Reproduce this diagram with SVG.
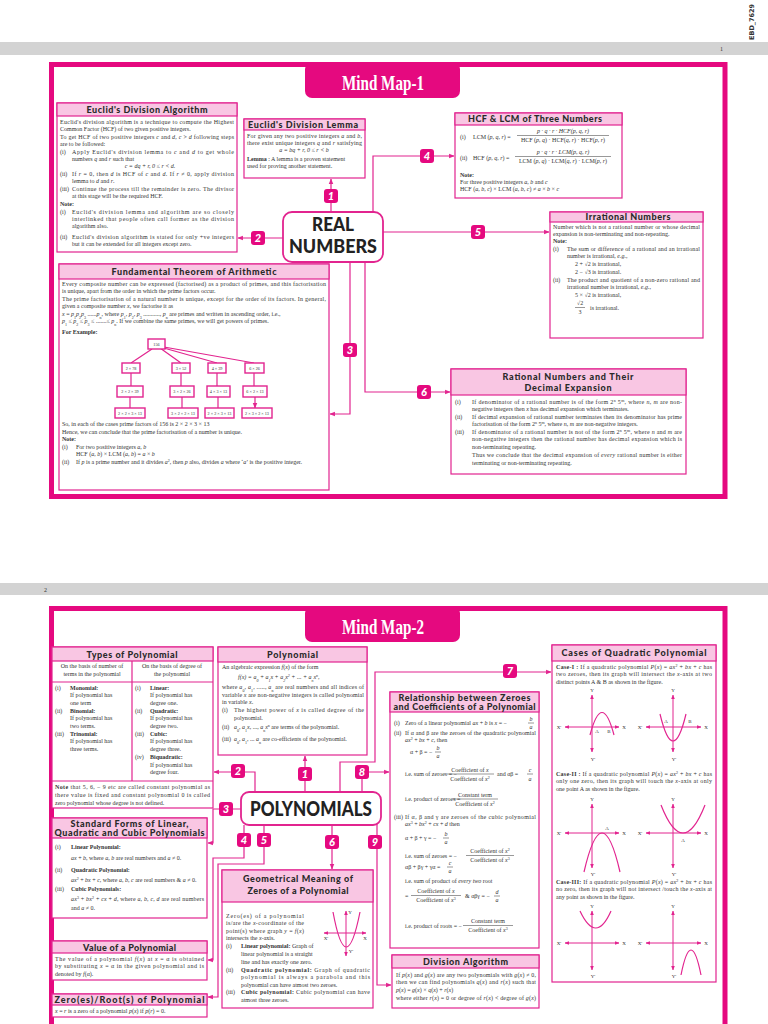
<svg xmlns="http://www.w3.org/2000/svg" width="768" height="1024" viewBox="0 0 768 1024">
<defs>
<marker id="ah" viewBox="0 0 6 6" refX="5.5" refY="3" markerWidth="4.5" markerHeight="4.5" orient="auto-start-reverse"><path d="M0,0.5 L6,3 L0,5.5 z" fill="#e2248f"/></marker>
<style>
.bx{fill:#fff;stroke:#e2248f;stroke-width:1.2}
.hb{fill:#f9c6e3;stroke:#e2248f;stroke-width:1.2}
.ht{font-family:Lato,"DejaVu Sans",sans-serif;font-weight:900;font-size:9px;fill:#2a2a2a;text-anchor:middle}
.t{font-family:"Liberation Serif","Times New Roman",serif;font-size:6px;fill:#333}
.b{font-weight:bold}
.i{font-style:italic}
.m{text-anchor:middle}
.cn{fill:none;stroke:#e2248f;stroke-width:1.2}
.ar{marker-end:url(#ah)}
.bd rect{fill:#e5097f}
.bd text{font-family:Lato,"DejaVu Sans",sans-serif;font-weight:900;font-style:italic;font-size:11px;fill:#fff;text-anchor:middle}
.big{font-family:Lato,"DejaVu Sans",sans-serif;font-weight:900;fill:#222;text-anchor:middle}
.fl{stroke:#333;stroke-width:0.5}
.ax{stroke:#e2248f;stroke-width:1;fill:none;marker-end:url(#ah);marker-start:url(#ah)}
.pb{stroke:#e2248f;stroke-width:1.2;fill:none}
.gl{font-family:"Liberation Serif",serif;font-size:5px;fill:#333;text-anchor:middle}
.tb{fill:#fff;stroke:#e2248f;stroke-width:1.4}
.tt{font-family:"Liberation Serif",serif;font-size:4.2px;fill:#333;text-anchor:middle}
.frame{fill:none;stroke:#e5097f;stroke-width:5}
.tab{fill:#e5097f}
.tabt{font-family:"Liberation Serif",serif;font-weight:bold;font-size:21px;fill:#fff;text-anchor:middle}
.gray{fill:#d3d3d3}
</style>
</defs>
<rect width="768" height="1024" fill="#fff"/>

<!-- PAGE 1 -->
<g id="page1-chrome">
<rect class="gray" x="0" y="42" width="768" height="13"/>
<text class="t" x="720" y="51">1</text>
<text transform="translate(754,40) rotate(-90)" font-family="DejaVu Sans,sans-serif" font-weight="bold" font-size="6.5" fill="#333">EBD_7629</text>
<rect class="frame" x="51.5" y="64.5" width="673.5" height="432"/>
<rect class="tab" x="305" y="62" width="155" height="36" rx="7"/>
<text class="tabt" x="383" y="90" textLength="82" lengthAdjust="spacingAndGlyphs">Mind Map-1</text>
</g>

<g id="connectors-1">
<path class="cn ar" d="M331,212 V179"/>
<path class="cn ar" d="M283,238 H238"/>
<path class="cn ar" d="M373,212 V156 H454"/>
<path class="cn ar" d="M383,232 H549"/>
<path class="cn ar" d="M350,262 V414 H330"/>
<path class="cn ar" d="M365,262 V392 H450"/>
</g>
<g id="badges-1" class="bd">
<rect x="324" y="189" width="14" height="14" rx="3"/><text x="331" y="200">1</text>
<rect x="251" y="231" width="14" height="14" rx="3"/><text x="258" y="242">2</text>
<rect x="343" y="343" width="14" height="14" rx="3"/><text x="350" y="354">3</text>
<rect x="420" y="149" width="14" height="14" rx="3"/><text x="427" y="160">4</text>
<rect x="471" y="225" width="14" height="14" rx="3"/><text x="478" y="236">5</text>
<rect x="417" y="385" width="14" height="14" rx="3"/><text x="424" y="396">6</text>
</g>

<g id="real-numbers">
<rect x="283" y="212" width="100" height="50" rx="9" fill="#fff" stroke="#e2248f" stroke-width="1.8"/>
<text class="big" x="333" y="231" font-size="19" textLength="42" lengthAdjust="spacingAndGlyphs">REAL</text>
<text class="big" x="333" y="253" font-size="19" textLength="88" lengthAdjust="spacingAndGlyphs">NUMBERS</text>
</g>

<g id="euclid-algorithm">
<rect class="bx" x="57" y="103" width="180" height="149"/>
<rect class="hb" x="57" y="103" width="180" height="13"/>
<text class="ht" x="147" y="113" textLength="121">Euclid's Division Algorithm</text>
<text class="t" x="60" y="124" textLength="174">Euclid's division algorithm is a technique to compute the Highest</text>
<text class="t" x="60" y="131">Common Factor (HCF) of two given positive integers.</text>
<text class="t" x="60" y="139" textLength="174">To get HCF of two positive integers <tspan class="i">c</tspan> and <tspan class="i">d</tspan>, <tspan class="i">c</tspan> &gt; <tspan class="i">d</tspan> following steps</text>
<text class="t" x="60" y="146">are to be followed:</text>
<text class="t" x="60" y="154">(i)</text><text class="t" x="72" y="154" textLength="162">Apply Euclid's division lemma to <tspan class="i">c</tspan> and <tspan class="i">d</tspan> to get whole</text>
<text class="t" x="72" y="161">numbers <tspan class="i">q</tspan> and <tspan class="i">r</tspan> such that</text>
<text class="t m i" x="150" y="168">c = dq + r,  0 ≤ r &lt; d.</text>
<text class="t" x="60" y="176">(ii)</text><text class="t" x="72" y="176" textLength="162">If <tspan class="i">r</tspan> = 0, then <tspan class="i">d</tspan> is HCF of <tspan class="i">c</tspan> and <tspan class="i">d</tspan>. If <tspan class="i">r</tspan> ≠ 0, apply division</text>
<text class="t" x="72" y="183">lemma to <tspan class="i">d</tspan> and <tspan class="i">r</tspan>.</text>
<text class="t" x="60" y="191">(iii)</text><text class="t" x="72" y="191" textLength="162">Continue the process till the remainder is zero. The divisor</text>
<text class="t" x="72" y="198">at this stage will be the required HCF.</text>
<text class="t b" x="60" y="206">Note:</text>
<text class="t" x="60" y="214">(i)</text><text class="t" x="72" y="214" textLength="162">Euclid's division lemma and algorithm are so closely</text>
<text class="t" x="72" y="221" textLength="162">interlinked that people often call former as the division</text>
<text class="t" x="72" y="228">algorithm also.</text>
<text class="t" x="60" y="239">(ii)</text><text class="t" x="72" y="239" textLength="162">Euclid's division algorithm is stated for only +ve integers</text>
<text class="t" x="72" y="246">but it can be extended for all integers except zero.</text>
</g>

<g id="euclid-lemma">
<rect class="bx" x="244" y="119" width="121" height="59"/>
<rect class="hb" x="244" y="119" width="121" height="11"/>
<text class="ht" x="303" y="127.5" font-size="8" textLength="110">Euclid's Division Lemma</text>
<text class="t" x="247" y="138" textLength="115">For given any two positive integers <tspan class="i">a</tspan> and <tspan class="i">b</tspan>,</text>
<text class="t" x="247" y="145" textLength="115">there exist unique integers <tspan class="i">q</tspan> and <tspan class="i">r</tspan> satisfying</text>
<text class="t m i" x="304" y="152">a = bq + r, 0 ≤ r &lt; b</text>
<text class="t" x="247" y="161"><tspan class="b">Lemma</tspan> : A lemma is a proven statement</text>
<text class="t" x="247" y="168">used for proving another statement.</text>
</g>

<g id="hcf-lcm">
<rect class="bx" x="455" y="113" width="167" height="85"/>
<rect class="hb" x="455" y="113" width="167" height="12"/>
<text class="ht" x="535" y="122" textLength="134">HCF &amp; LCM of Three Numbers</text>
<text class="t" x="460" y="139">(i)</text>
<text class="t" x="473" y="139">LCM (<tspan class="i">p</tspan>, <tspan class="i">q</tspan>, <tspan class="i">r</tspan>) =</text>
<text class="t m i" x="563" y="133">p · q · r · HCF(p, q, r)</text>
<line class="fl" x1="517" y1="135.5" x2="609" y2="135.5"/>
<text class="t m" x="563" y="142">HCF (<tspan class="i">p</tspan>, <tspan class="i">q</tspan>) · HCF(<tspan class="i">q</tspan>, <tspan class="i">r</tspan>) · HCF(<tspan class="i">p</tspan>, <tspan class="i">r</tspan>)</text>
<text class="t" x="460" y="160">(ii)</text>
<text class="t" x="473" y="160">HCF (<tspan class="i">p</tspan>, <tspan class="i">q</tspan>, <tspan class="i">r</tspan>) =</text>
<text class="t m i" x="563" y="154">p · q · r · LCM(p, q, r)</text>
<line class="fl" x1="515" y1="156.5" x2="611" y2="156.5"/>
<text class="t m" x="563" y="163">LCM (<tspan class="i">p</tspan>, <tspan class="i">q</tspan>) · LCM(<tspan class="i">q</tspan>, <tspan class="i">r</tspan>) · LCM(<tspan class="i">p</tspan>, <tspan class="i">r</tspan>)</text>
<text class="t b" x="460" y="177">Note:</text>
<text class="t" x="460" y="184">For three positive integers <tspan class="i">a</tspan>, <tspan class="i">b</tspan> and <tspan class="i">c</tspan></text>
<text class="t" x="460" y="191">HCF (<tspan class="i">a</tspan>, <tspan class="i">b</tspan>, <tspan class="i">c</tspan>) × LCM (<tspan class="i">a</tspan>, <tspan class="i">b</tspan>, <tspan class="i">c</tspan>) ≠ <tspan class="i">a</tspan> × <tspan class="i">b</tspan> × <tspan class="i">c</tspan></text>
</g>

<g id="irrational">
<rect class="bx" x="550" y="212" width="153" height="126"/>
<rect class="hb" x="550" y="212" width="153" height="10"/>
<text class="ht" x="628" y="220" font-size="8.5" textLength="85">Irrational Numbers</text>
<text class="t" x="553" y="229" textLength="147">Number which is not a rational number or whose decimal</text>
<text class="t" x="553" y="236">expansion is non-terminating and non-repeating.</text>
<text class="t b" x="553" y="243">Note:</text>
<text class="t" x="553" y="251">(i)</text><text class="t" x="567" y="251" textLength="133">The sum or difference of a rational and an irrational</text>
<text class="t" x="567" y="258">number is irrational, <tspan class="i">e.g.</tspan>,</text>
<text class="t" x="575" y="266">2 + √2  is irrational,</text>
<text class="t" x="575" y="274">2 − √3  is irrational.</text>
<text class="t" x="553" y="282">(ii)</text><text class="t" x="567" y="282" textLength="133">The product and quotient of a non-zero rational and</text>
<text class="t" x="567" y="289">irrational number is irrational, <tspan class="i">e.g.</tspan>,</text>
<text class="t" x="575" y="297">5 × √2  is irrational,</text>
<text class="t m" x="580" y="305">√2</text>
<line class="fl" x1="575" y1="307.5" x2="585" y2="307.5"/>
<text class="t m" x="580" y="314">3</text>
<text class="t" x="590" y="310">is irrational.</text>
</g>

<g id="fundamental-theorem">
<rect class="bx" x="59" y="264" width="270" height="226"/>
<rect class="hb" x="59" y="264" width="270" height="15"/>
<text class="ht" x="194" y="275" font-size="9.5" textLength="165">Fundamental Theorem of Arithmetic</text>
<text class="t" x="62" y="286" textLength="264">Every composite number can be expressed (factorised) as a product of primes, and this factorisation</text>
<text class="t" x="62" y="293">is unique, apart from the order in which the prime factors occur.</text>
<text class="t" x="62" y="301" textLength="264">The prime factorisation of a natural number is unique, except for the order of its factors. In general,</text>
<text class="t" x="62" y="308">given a composite number <tspan class="i">x</tspan>, we factorise it as</text>
<text class="t" x="62" y="316"><tspan class="i">x</tspan> = <tspan class="i">p</tspan><tspan font-size="4" baseline-shift="sub">1</tspan><tspan class="i">p</tspan><tspan font-size="4" baseline-shift="sub">2</tspan><tspan class="i">p</tspan><tspan font-size="4" baseline-shift="sub">3</tspan> ......<tspan class="i">p</tspan><tspan font-size="4" baseline-shift="sub">n</tspan>, where <tspan class="i">p</tspan><tspan font-size="4" baseline-shift="sub">1</tspan>, <tspan class="i">p</tspan><tspan font-size="4" baseline-shift="sub">2</tspan>, <tspan class="i">p</tspan><tspan font-size="4" baseline-shift="sub">3</tspan> ..........., <tspan class="i">p</tspan><tspan font-size="4" baseline-shift="sub">n</tspan> are primes and written in ascending order, i.e.,</text>
<text class="t" x="62" y="323"><tspan class="i">p</tspan><tspan font-size="4" baseline-shift="sub">1</tspan> ≤ <tspan class="i">p</tspan><tspan font-size="4" baseline-shift="sub">2</tspan> ≤ <tspan class="i">p</tspan><tspan font-size="4" baseline-shift="sub">3</tspan> ≤ .......≤ <tspan class="i">p</tspan><tspan font-size="4" baseline-shift="sub">n</tspan>. If we combine the same primes, we will get powers of primes.</text>
<text class="t b" x="62" y="334">For Example:</text>
<path class="cn" d="M152,349 L131,363 M160,348 L181,363 M162,347.5 L217,363 M164,347 L254,363"/>
<path class="cn ar" d="M131,373 V386 M181,373 V386 M217,373 V386 M254,373 V386 M130,397 V408 M182,397 V408 M218,397 V408 M255,397 V408"/>
<rect class="tb" x="148" y="339" width="17" height="10"/><text class="tt" x="156.5" y="345.5">156</text>
<rect class="tb" x="122" y="363" width="18" height="10"/><text class="tt" x="131" y="369.5">2 × 78</text>
<rect class="tb" x="172" y="363" width="18" height="10"/><text class="tt" x="181" y="369.5">3 × 52</text>
<rect class="tb" x="208" y="363" width="18" height="10"/><text class="tt" x="217" y="369.5">4 × 39</text>
<rect class="tb" x="245" y="363" width="19" height="10"/><text class="tt" x="254.5" y="369.5">6 × 26</text>
<rect class="tb" x="117" y="386" width="26" height="11"/><text class="tt" x="130" y="393">2 × 2 × 39</text>
<rect class="tb" x="170" y="386" width="24" height="11"/><text class="tt" x="182" y="393">3 × 2 × 26</text>
<rect class="tb" x="207" y="386" width="23" height="11"/><text class="tt" x="218.5" y="393">4 × 3 × 13</text>
<rect class="tb" x="243" y="386" width="24" height="11"/><text class="tt" x="255" y="393">6 × 2 × 13</text>
<rect class="tb" x="115" y="408" width="30" height="10"/><text class="tt" x="130" y="414.5">2 × 2 × 3 × 13</text>
<rect class="tb" x="168" y="408" width="30" height="10"/><text class="tt" x="183" y="414.5">3 × 2 × 2 × 13</text>
<rect class="tb" x="205" y="408" width="29" height="10"/><text class="tt" x="219.5" y="414.5">2 × 2 × 3 × 13</text>
<rect class="tb" x="242" y="408" width="30" height="10"/><text class="tt" x="257" y="414.5">2 × 3 × 2 × 13</text>
<text class="t" x="62" y="426">So, in each of the cases prime factors of 156 is 2 × 2 × 3 × 13</text>
<text class="t" x="62" y="434">Hence, we can conclude that the prime factorisation of a number is unique.</text>
<text class="t b" x="62" y="441">Note:</text>
<text class="t" x="62" y="449">(i)</text><text class="t" x="76" y="449">For two positive integers <tspan class="i">a</tspan>, <tspan class="i">b</tspan></text>
<text class="t" x="76" y="456">HCF (<tspan class="i">a</tspan>, <tspan class="i">b</tspan>) × LCM (<tspan class="i">a</tspan>, <tspan class="i">b</tspan>) = <tspan class="i">a</tspan> × <tspan class="i">b</tspan></text>
<text class="t" x="62" y="464">(ii)</text><text class="t" x="76" y="464">If <tspan class="i">p</tspan> is a prime number and it divides <tspan class="i">a</tspan><tspan font-size="4" baseline-shift="super">2</tspan>, then <tspan class="i">p</tspan> also, divides <tspan class="i">a</tspan> where ‘<tspan class="i">a</tspan>’ is the positive integer.</text>
</g>

<g id="rational">
<rect class="bx" x="451" y="369" width="235" height="105"/>
<rect class="hb" x="451" y="369" width="235" height="26"/>
<text class="ht" x="568" y="380" font-size="9.5" textLength="131">Rational Numbers and Their</text>
<text class="ht" x="568" y="391" font-size="9.5" textLength="87">Decimal Expansion</text>
<text class="t" x="455" y="404">(i)</text><text class="t" x="472" y="404" textLength="210">If denominator of a rational number is of the form 2<tspan font-size="4" baseline-shift="super">n</tspan> 5<tspan font-size="4" baseline-shift="super">m</tspan>, where <tspan class="i">n</tspan>, <tspan class="i">m</tspan> are non-</text>
<text class="t" x="472" y="411">negative integers then <tspan class="i">x</tspan> has decimal expansion  which terminates.</text>
<text class="t" x="455" y="419">(ii)</text><text class="t" x="472" y="419" textLength="210">If decimal expansion of rational number terminates then its denominator has prime</text>
<text class="t" x="472" y="426">factorisation of the form 2<tspan font-size="4" baseline-shift="super">n</tspan> 5<tspan font-size="4" baseline-shift="super">m</tspan>, where <tspan class="i">n</tspan>, <tspan class="i">m</tspan> are non-negative integers.</text>
<text class="t" x="455" y="434">(iii)</text><text class="t" x="472" y="434" textLength="210">If denominator of a rational number is not of the form 2<tspan font-size="4" baseline-shift="super">n</tspan> 5<tspan font-size="4" baseline-shift="super">m</tspan>, where <tspan class="i">n</tspan> and <tspan class="i">m</tspan> are</text>
<text class="t" x="472" y="441" textLength="210">non-negative integers then the rational number has decimal expansion which is</text>
<text class="t" x="472" y="449">non-terminating repeating.</text>
<text class="t" x="472" y="457" textLength="210">Thus we conclude that the decimal expansion of <tspan class="i">every</tspan> rational number is either</text>
<text class="t" x="472" y="465">terminating or non-terminating repeating.</text>
</g>

<!-- PAGE 2 -->
<g id="page2-chrome">
<rect class="gray" x="0" y="583" width="768" height="12"/>
<text class="t" x="44" y="592">2</text>
<rect class="frame" x="51.5" y="608.5" width="673.5" height="430"/>
<rect class="tab" x="305" y="606" width="155" height="36" rx="7"/>
<text class="tabt" x="383" y="634" textLength="82" lengthAdjust="spacingAndGlyphs">Mind Map-2</text>
</g>

<g id="connectors-2">
<path class="cn ar" d="M305,792 V756"/>
<path class="cn ar" d="M255,792 V772 H214"/>
<path class="cn ar" d="M362,792 V772 H389"/>
<path class="cn ar" d="M340,792 V762 H375 V672 H551"/>
<path class="cn ar" d="M241,809 H213 V843 H208"/>
<path class="cn ar" d="M244,825 V858 H213 V960 H208"/>
<path class="cn ar" d="M264,825 V864 H218 V997 H208"/>
<path class="cn ar" d="M332,825 V869"/>
<path class="cn ar" d="M377,822 V985 H391"/>
</g>
<g id="badges-2" class="bd">
<rect x="298" y="767" width="14" height="14" rx="3"/><text x="305" y="778">1</text>
<rect x="231" y="764" width="14" height="14" rx="3"/><text x="238" y="775">2</text>
<rect x="219" y="802" width="14" height="14" rx="3"/><text x="226" y="813">3</text>
<rect x="237" y="833" width="14" height="14" rx="3"/><text x="244" y="844">4</text>
<rect x="257" y="833" width="14" height="14" rx="3"/><text x="264" y="844">5</text>
<rect x="325" y="835" width="14" height="14" rx="3"/><text x="332" y="846">6</text>
<rect x="503" y="664" width="14" height="14" rx="3"/><text x="510" y="675">7</text>
<rect x="355" y="765" width="14" height="14" rx="3"/><text x="362" y="776">8</text>
<rect x="368" y="835" width="14" height="14" rx="3"/><text x="375" y="846">9</text>
</g>

<g id="polynomials">
<rect x="241" y="792" width="140" height="33" rx="8" fill="#fff" stroke="#e2248f" stroke-width="1.8"/>
<text class="big" x="311" y="816" font-size="20" textLength="122" lengthAdjust="spacingAndGlyphs">POLYNOMIALS</text>
</g>

<g id="types-of-polynomial">
<rect class="bx" x="52" y="647" width="161" height="161"/>
<rect class="hb" x="52" y="647" width="161" height="14"/>
<text class="ht" x="132" y="657.5" font-size="9.5" textLength="91">Types of Polynomial</text>
<path class="cn" d="M52,682 H213 M52,781 H213 M132,661 V781"/>
<text class="t m" x="92" y="668">On the basis of number of</text>
<text class="t m" x="92" y="676">terms in the polynomial</text>
<text class="t m" x="172" y="668">On the basis of degree of</text>
<text class="t m" x="172" y="676">the polynomial</text>
<text class="t" x="55" y="690">(i)</text><text class="t b" x="70" y="690">Monomial:</text>
<text class="t" x="70" y="697">If polynomial has</text>
<text class="t" x="70" y="705">one term</text>
<text class="t" x="55" y="713">(ii)</text><text class="t b" x="70" y="713">Binomial:</text>
<text class="t" x="70" y="720">If polynomial has</text>
<text class="t" x="70" y="728">two terms.</text>
<text class="t" x="55" y="736">(iii)</text><text class="t b" x="70" y="736">Trinomial:</text>
<text class="t" x="70" y="743">If polynomial has</text>
<text class="t" x="70" y="751">three terms.</text>
<text class="t" x="135" y="690">(i)</text><text class="t b" x="150" y="690">Linear:</text>
<text class="t" x="150" y="697">If polynomial has</text>
<text class="t" x="150" y="705">degree one.</text>
<text class="t" x="135" y="713">(ii)</text><text class="t b" x="150" y="713">Quadratic:</text>
<text class="t" x="150" y="720">If polynomial has</text>
<text class="t" x="150" y="728">degree two.</text>
<text class="t" x="135" y="736">(iii)</text><text class="t b" x="150" y="736">Cubic:</text>
<text class="t" x="150" y="743">If polynomial has</text>
<text class="t" x="150" y="751">degree three.</text>
<text class="t" x="135" y="759">(iv)</text><text class="t b" x="150" y="759">Biquadratic:</text>
<text class="t" x="150" y="767">If polynomial has</text>
<text class="t" x="150" y="774">degree four.</text>
<text class="t" x="55" y="789" textLength="155"><tspan class="b">Note</tspan> that 5, 6, − 9 etc are called constant polynomial as</text>
<text class="t" x="55" y="797" textLength="155">there value is fixed and constant polynomial 0 is called</text>
<text class="t" x="55" y="805">zero polynomial whose degree is not defined.</text>
</g>

<g id="polynomial">
<rect class="bx" x="218" y="647" width="149" height="108"/>
<rect class="hb" x="218" y="647" width="149" height="15"/>
<text class="ht" x="292.5" y="658" font-size="9.5" textLength="51">Polynomial</text>
<text class="t" x="222" y="669">An algebraic expression <tspan class="i">f</tspan>(<tspan class="i">x</tspan>) of the form</text>
<text class="t i" x="238" y="679" font-size="6.5">f(x) = a<tspan font-size="4" baseline-shift="sub">0</tspan> + a<tspan font-size="4" baseline-shift="sub">1</tspan>x + a<tspan font-size="4" baseline-shift="sub">2</tspan>x<tspan font-size="4" baseline-shift="super">2</tspan> + ... + a<tspan font-size="4" baseline-shift="sub">n</tspan>x<tspan font-size="4" baseline-shift="super">n</tspan>,</text>
<text class="t" x="222" y="689" textLength="142">where <tspan class="i">a</tspan><tspan font-size="4" baseline-shift="sub">0</tspan>, <tspan class="i">a</tspan><tspan font-size="4" baseline-shift="sub">1</tspan>, ....., <tspan class="i">a</tspan><tspan font-size="4" baseline-shift="sub">n</tspan> are real numbers and all indices of</text>
<text class="t" x="222" y="697" textLength="142">variable <tspan class="i">x</tspan> are non-negative integers is called polynomial</text>
<text class="t" x="222" y="704">in variable <tspan class="i">x</tspan>.</text>
<text class="t" x="222" y="712">(i)</text><text class="t" x="234" y="712" textLength="130">The highest power of <tspan class="i">x</tspan> is called degree of the</text>
<text class="t" x="234" y="720">polynomial.</text>
<text class="t" x="222" y="729">(ii)</text><text class="t" x="234" y="729"><tspan class="i">a</tspan><tspan font-size="4" baseline-shift="sub">0</tspan>, <tspan class="i">a</tspan><tspan font-size="4" baseline-shift="sub">1</tspan><tspan class="i">x</tspan>, ..., <tspan class="i">a</tspan><tspan font-size="4" baseline-shift="sub">n</tspan><tspan class="i">x</tspan><tspan font-size="4" baseline-shift="super">n</tspan> are terms of the polynomial.</text>
<text class="t" x="222" y="741">(iii)</text><text class="t" x="234" y="741"><tspan class="i">a</tspan><tspan font-size="4" baseline-shift="sub">0</tspan>, <tspan class="i">a</tspan><tspan font-size="4" baseline-shift="sub">1</tspan>, ... <tspan class="i">a</tspan><tspan font-size="4" baseline-shift="sub">n</tspan> are co-efficients of the  polynomial.</text>
</g>

<g id="relationship">
<rect class="bx" x="390" y="692" width="149" height="256"/>
<rect class="hb" x="390" y="692" width="149" height="20"/>
<text class="ht" x="464.5" y="700.5" font-size="8.7" textLength="132">Relationship between Zeroes</text>
<text class="ht" x="464.5" y="709.5" font-size="8.7" textLength="142">and Coefficients of a Polynomial</text>
<text class="t" x="394" y="725">(i)</text><text class="t" x="405" y="725">Zero of a linear polynomial <tspan class="i">ax</tspan> + <tspan class="i">b</tspan> is  <tspan class="i">x</tspan> = −</text>
<text class="t m i" x="531" y="721">b</text><line class="fl" x1="528" y1="723" x2="534" y2="723"/><text class="t m i" x="531" y="729">a</text>
<text class="t" x="394" y="735">(ii)</text><text class="t" x="405" y="735" textLength="131">If α and β are the zeroes of the quadratic polynomial</text>
<text class="t" x="405" y="742"><tspan class="i">ax</tspan><tspan font-size="4" baseline-shift="super">2</tspan> + <tspan class="i">bx</tspan> + <tspan class="i">c</tspan>, then</text>
<text class="t" x="410" y="754">α + β = −</text>
<text class="t m i" x="438" y="750">b</text><line class="fl" x1="435" y1="752" x2="441" y2="752"/><text class="t m i" x="438" y="758">a</text>
<text class="t" x="405" y="776">i.e. sum of zeroes = −</text>
<text class="t m" x="470" y="772">Coefficient of <tspan class="i">x</tspan></text><line class="fl" x1="447" y1="774" x2="494" y2="774"/><text class="t m" x="470" y="780.5">Coefficient of <tspan class="i">x</tspan><tspan font-size="4" baseline-shift="super">2</tspan></text>
<text class="t" x="497" y="776">and αβ =</text>
<text class="t m i" x="530" y="772">c</text><line class="fl" x1="527" y1="774" x2="533" y2="774"/><text class="t m i" x="530" y="780.5">a</text>
<text class="t" x="405" y="801">i.e. product of zeroes =</text>
<text class="t m" x="475" y="797">Constant term</text><line class="fl" x1="453" y1="799" x2="498" y2="799"/><text class="t m" x="475" y="806">Coefficient of <tspan class="i">x</tspan><tspan font-size="4" baseline-shift="super">2</tspan></text>
<text class="t" x="394" y="819">(iii)</text><text class="t" x="405" y="819" textLength="131">If  α, β and γ are zeroes of the cubic polynomial</text>
<text class="t" x="405" y="826"><tspan class="i">ax</tspan><tspan font-size="4" baseline-shift="super">3</tspan> + <tspan class="i">bx</tspan><tspan font-size="4" baseline-shift="super">2</tspan> + <tspan class="i">cx</tspan> + <tspan class="i">d</tspan> then</text>
<text class="t" x="405" y="840">α + β + γ = −</text>
<text class="t m i" x="446" y="836">b</text><line class="fl" x1="443" y1="838" x2="449" y2="838"/><text class="t m i" x="446" y="844">a</text>
<text class="t" x="405" y="858">i.e. sum of zeroes = −</text>
<text class="t m" x="490" y="853">Coefficient of <tspan class="i">x</tspan><tspan font-size="4" baseline-shift="super">2</tspan></text><line class="fl" x1="466" y1="855.5" x2="514" y2="855.5"/><text class="t m" x="490" y="862">Coefficient of <tspan class="i">x</tspan><tspan font-size="4" baseline-shift="super">3</tspan></text>
<text class="t" x="405" y="869">αβ + βγ + γα =</text>
<text class="t m i" x="450" y="865">c</text><line class="fl" x1="447" y1="867" x2="453" y2="867"/><text class="t m i" x="450" y="873">a</text>
<text class="t" x="405" y="883">i.e. sum of product of <tspan class="i">every two</tspan> root</text>
<text class="t" x="405" y="898">=</text>
<text class="t m" x="436" y="893">Coefficient of <tspan class="i">x</tspan></text><line class="fl" x1="411" y1="895.5" x2="461" y2="895.5"/><text class="t m" x="436" y="902">Coefficient of <tspan class="i">x</tspan><tspan font-size="4" baseline-shift="super">3</tspan></text>
<text class="t" x="465" y="898">&amp; αβγ = −</text>
<text class="t m i" x="497" y="894">d</text><line class="fl" x1="494" y1="896" x2="500" y2="896"/><text class="t m i" x="497" y="902">a</text>
<text class="t" x="405" y="928">i.e. product of roots = −</text>
<text class="t m" x="488" y="923">Constant term</text><line class="fl" x1="463" y1="925.5" x2="513" y2="925.5"/><text class="t m" x="488" y="932">Coefficient of <tspan class="i">x</tspan><tspan font-size="4" baseline-shift="super">3</tspan></text>
</g>

<g id="cases-quadratic">
<rect class="bx" x="552" y="645" width="164" height="337"/>
<rect class="hb" x="552" y="645" width="164" height="16"/>
<text class="ht" x="634" y="656" font-size="9" textLength="145">Cases of Quadratic Polynomial</text>
<text class="t" x="556" y="669" textLength="156"><tspan class="b">Case-I :</tspan> If a quadratic polynomial <tspan class="i">P</tspan>(<tspan class="i">x</tspan>) = <tspan class="i">ax</tspan><tspan font-size="4" baseline-shift="super">2</tspan> + <tspan class="i">bx</tspan> + <tspan class="i">c</tspan> has</text>
<text class="t" x="556" y="676" textLength="156">two zeroes, then its graph will intersect the <tspan class="i">x</tspan>-axis at two</text>
<text class="t" x="556" y="684">distinct points A &amp; B as shown in the figure.</text>
<path class="ax" d="M592,752 V695"/><path class="ax" d="M565,727 H619"/>
<path class="pb" d="M590,735 Q602,690 614,735"/>
<text class="gl" x="592" y="692">Y</text><text class="gl" x="593" y="761">Y'</text><text class="gl" x="559" y="729">X'</text><text class="gl" x="624" y="729">X</text>
<text class="gl" x="597" y="733">A</text><text class="gl" x="609" y="733">B</text>
<path class="ax" d="M673,752 V695"/><path class="ax" d="M646,727 H701"/>
<path class="pb" d="M660,714 Q673,768 686,714"/>
<text class="gl" x="673" y="692">Y</text><text class="gl" x="674" y="761">Y'</text><text class="gl" x="640" y="729">X'</text><text class="gl" x="706" y="729">X</text>
<text class="gl" x="666" y="723">A</text><text class="gl" x="690" y="723">B</text>
<text class="t" x="556" y="776" textLength="156"><tspan class="b">Case-II :</tspan> If a quadratic polynomial <tspan class="i">P</tspan>(<tspan class="i">x</tspan>) = <tspan class="i">ax</tspan><tspan font-size="4" baseline-shift="super">2</tspan> + <tspan class="i">bx</tspan> + <tspan class="i">c</tspan> has</text>
<text class="t" x="556" y="783" textLength="156">only one zero, then its graph will touch the <tspan class="i">x</tspan>-axis at only</text>
<text class="t" x="556" y="791">one point A as shown in the figure.</text>
<path class="ax" d="M592,868 V804"/><path class="ax" d="M565,833 H619"/>
<path class="pb" d="M584,872 Q602,794 620,872"/>
<text class="gl" x="592" y="801">Y</text><text class="gl" x="593" y="876">Y'</text><text class="gl" x="559" y="835">X'</text><text class="gl" x="624" y="835">X</text>
<text class="gl" x="607" y="830">A</text>
<path class="ax" d="M673,868 V804"/><path class="ax" d="M646,833 H701"/>
<path class="pb" d="M661,805 Q683,861 705,805"/>
<text class="gl" x="673" y="801">Y</text><text class="gl" x="674" y="876">Y'</text><text class="gl" x="640" y="835">X'</text><text class="gl" x="706" y="835">X</text>
<text class="gl" x="683" y="842">A</text>
<text class="t" x="556" y="884" textLength="156"><tspan class="b">Case-III:</tspan> If a quadratic polynomial <tspan class="i">P</tspan>(<tspan class="i">x</tspan>) = <tspan class="i">ax</tspan><tspan font-size="4" baseline-shift="super">2</tspan> + <tspan class="i">bx</tspan> + <tspan class="i">c</tspan> has</text>
<text class="t" x="556" y="891" textLength="156">no zero, then its graph will not intersect /touch the <tspan class="i">x</tspan>-axis at</text>
<text class="t" x="556" y="899">any point as shown in the figure.</text>
<path class="ax" d="M592,970 V911"/><path class="ax" d="M565,943 H619"/>
<path class="pb" d="M580,911 Q596,945 611,911"/>
<text class="gl" x="592" y="908">Y</text><text class="gl" x="593" y="978">Y'</text><text class="gl" x="559" y="945">X'</text><text class="gl" x="624" y="945">X</text>
<path class="ax" d="M673,970 V911"/><path class="ax" d="M646,943 H701"/>
<path class="pb" d="M681,975 Q691,925 701,975"/>
<text class="gl" x="673" y="908">Y</text><text class="gl" x="674" y="978">Y'</text><text class="gl" x="640" y="945">X'</text><text class="gl" x="706" y="945">X</text>
</g>

<g id="standard-forms">
<rect class="bx" x="52" y="818" width="155" height="100"/>
<rect class="hb" x="52" y="818" width="155" height="20"/>
<text class="ht" x="129.5" y="827" font-size="9" textLength="118">Standard Forms of Linear,</text>
<text class="ht" x="129.5" y="836" font-size="9" textLength="150">Quadratic and Cubic Polynomials</text>
<text class="t" x="55" y="849">(i)</text><text class="t b" x="71" y="849">Linear Polynomial:</text>
<text class="t" x="71" y="860"><tspan class="i">ax</tspan> + <tspan class="i">b</tspan>, where <tspan class="i">a</tspan>, <tspan class="i">b</tspan> are real numbers and <tspan class="i">a</tspan> ≠ 0.</text>
<text class="t" x="55" y="872">(ii)</text><text class="t b" x="71" y="872">Quadratic Polynomial:</text>
<text class="t" x="71" y="882"><tspan class="i">ax</tspan><tspan font-size="4" baseline-shift="super">2</tspan> + <tspan class="i">bx</tspan> + <tspan class="i">c</tspan>, where <tspan class="i">a</tspan>, <tspan class="i">b</tspan>, <tspan class="i">c</tspan> are real numbers &amp; <tspan class="i">a</tspan> ≠ 0.</text>
<text class="t" x="55" y="891">(iii)</text><text class="t b" x="71" y="891">Cubic Polynomials:</text>
<text class="t" x="71" y="901" textLength="133"><tspan class="i">ax</tspan><tspan font-size="4" baseline-shift="super">3</tspan> + <tspan class="i">bx</tspan><tspan font-size="4" baseline-shift="super">2</tspan> + <tspan class="i">cx</tspan> + <tspan class="i">d</tspan>, where <tspan class="i">a</tspan>, <tspan class="i">b</tspan>, <tspan class="i">c</tspan>, <tspan class="i">d</tspan> are real numbers</text>
<text class="t" x="71" y="910">and <tspan class="i">a</tspan> ≠ 0.</text>
</g>

<g id="value-of-polynomial">
<rect class="bx" x="52" y="941" width="155" height="39"/>
<rect class="hb" x="52" y="941" width="155" height="12"/>
<text class="ht" x="129.5" y="950.5" font-size="9" textLength="93">Value of a Polynomial</text>
<text class="t" x="55" y="961" textLength="149">The value of a polynomial <tspan class="i">f</tspan>(<tspan class="i">x</tspan>) at <tspan class="i">x</tspan> = α is obtained</text>
<text class="t" x="55" y="968" textLength="149">by substituting  <tspan class="i">x</tspan> = α in the given polynomial and is</text>
<text class="t" x="55" y="976">denoted by <tspan class="i">f</tspan>(α).</text>
</g>

<g id="zero-of-polynomial">
<rect class="bx" x="52" y="994" width="155" height="23"/>
<rect class="hb" x="52" y="994" width="155" height="11"/>
<text class="ht" x="129.5" y="1003" font-size="9" textLength="150">Zero(es)/Root(s) of Polynomial</text>
<text class="t" x="55" y="1013"><tspan class="i">x</tspan> = <tspan class="i">r</tspan> is a zero of a polynomial <tspan class="i">p</tspan>(<tspan class="i">x</tspan>) if <tspan class="i">p</tspan>(<tspan class="i">r</tspan>) = 0.</text>
</g>

<g id="geometrical-meaning">
<rect class="bx" x="222" y="870" width="151" height="138"/>
<rect class="hb" x="222" y="870" width="151" height="32"/>
<text class="ht" x="298" y="882" font-size="9.5" textLength="110">Geometrical Meaning of</text>
<text class="ht" x="298" y="894" font-size="9.5" textLength="101">Zeroes of a Polynomial</text>
<text class="t" x="226" y="918" textLength="78">Zero(es) of a polynomial</text>
<text class="t" x="226" y="925" textLength="78">is/are the <tspan class="i">x</tspan>-coordinate of the</text>
<text class="t" x="226" y="933" textLength="78">point(s) where graph <tspan class="i">y</tspan> = <tspan class="i">f</tspan>(<tspan class="i">x</tspan>)</text>
<text class="t" x="226" y="940">intersects the <tspan class="i">x</tspan>-axis.</text>
<text class="t" x="226" y="948">(i)</text><text class="t" x="241" y="948"><tspan class="b">Linear polynomial:</tspan> Graph of</text>
<text class="t" x="241" y="956">linear polynomial is a straight</text>
<text class="t" x="241" y="964">line and has exactly one zero.</text>
<text class="t" x="226" y="972">(ii)</text><text class="t" x="241" y="972" textLength="129"><tspan class="b">Quadratic polynomial:</tspan> Graph of quadratic</text>
<text class="t" x="241" y="979" textLength="129">polynomial is always a parabola and this</text>
<text class="t" x="241" y="987">polynomial can have atmost two zeroes.</text>
<text class="t" x="226" y="994">(iii)</text><text class="t" x="241" y="994" textLength="129"><tspan class="b">Cubic polynomial:</tspan>  Cubic polynomial can have</text>
<text class="t" x="241" y="1002">atmost  three zeroes.</text>
<path class="ax" d="M346,956 V911"/><path class="ax" d="M324,933 H366"/>
<path class="pb" d="M333,912 Q346,982 360,912"/>
<text class="gl" x="350" y="914">Y</text><text class="gl" x="351" y="953">Y'</text><text class="gl" x="326" y="940">X'</text><text class="gl" x="365" y="940">X</text>
</g>

<g id="division-algorithm">
<rect class="bx" x="392" y="955" width="147" height="53"/>
<rect class="hb" x="392" y="955" width="147" height="13"/>
<text class="ht" x="465.5" y="964.5" font-size="9" textLength="85">Division Algorithm</text>
<text class="t" x="396" y="977" textLength="140">If <tspan class="i">p</tspan>(<tspan class="i">x</tspan>) and <tspan class="i">g</tspan>(<tspan class="i">x</tspan>) are any two polynomials with <tspan class="i">g</tspan>(<tspan class="i">x</tspan>) ≠ 0,</text>
<text class="t" x="396" y="984" textLength="140">then we can find polynomials <tspan class="i">q</tspan>(<tspan class="i">x</tspan>) and <tspan class="i">r</tspan>(<tspan class="i">x</tspan>) such that</text>
<text class="t" x="396" y="992"><tspan class="i">p</tspan>(<tspan class="i">x</tspan>) = <tspan class="i">g</tspan>(<tspan class="i">x</tspan>) × <tspan class="i">q</tspan>(<tspan class="i">x</tspan>) + <tspan class="i">r</tspan>(<tspan class="i">x</tspan>)</text>
<text class="t" x="396" y="1000" textLength="140">where either <tspan class="i">r</tspan>(<tspan class="i">x</tspan>) = 0 or degree of <tspan class="i">r</tspan>(<tspan class="i">x</tspan>) &lt; degree of <tspan class="i">g</tspan>(<tspan class="i">x</tspan>)</text>
</g>
</svg>
